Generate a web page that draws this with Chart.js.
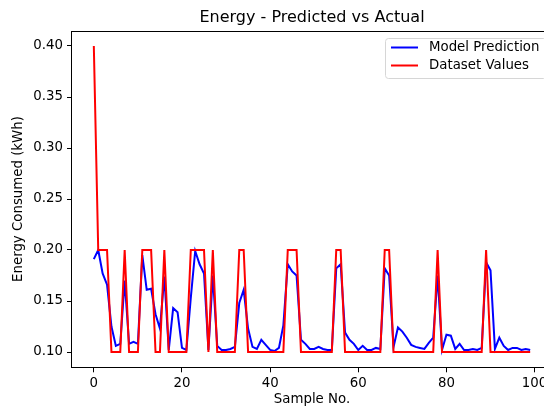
<!DOCTYPE html>
<html>
<head>
<meta charset="utf-8">
<script src="https://cdn.jsdelivr.net/npm/chart.js@4/dist/chart.umd.min.js"></script>
<style>
    html, body { margin: 0; padding: 0; overflow: hidden; background: #fff; }
    #wrap { width: 560px; height: 406px; }
</style>
</head>
<body>
<div id="wrap"><canvas id="myChart" width="560" height="406"></canvas></div>
<script>
const samples = [
    0, 1, 2, 3, 4, 5, 6, 7, 8, 9, 10, 11, 12, 13, 14, 15, 16, 17, 18, 19,
    20, 21, 22, 23, 24, 25, 26, 27, 28, 29, 30, 31, 32, 33, 34, 35, 36, 37, 38, 39,
    40, 41, 42, 43, 44, 45, 46, 47, 48, 49, 50, 51, 52, 53, 54, 55, 56, 57, 58, 59,
    60, 61, 62, 63, 64, 65, 66, 67, 68, 69, 70, 71, 72, 73, 74, 75, 76, 77, 78, 79,
    80, 81, 82, 83, 84, 85, 86, 87, 88, 89, 90, 91, 92, 93, 94, 95, 96, 97, 98, 99,
];

const predicted = [
    0.191, 0.200, 0.177, 0.166, 0.125, 0.106, 0.108, 0.170, 0.108, 0.110,
    0.108, 0.195, 0.161, 0.162, 0.137, 0.123, 0.174, 0.102, 0.143, 0.139,
    0.104, 0.102, 0.153, 0.199, 0.186, 0.177, 0.102, 0.175, 0.106, 0.102,
    0.102, 0.103, 0.105, 0.148, 0.161, 0.123, 0.105, 0.103, 0.112, 0.107,
    0.102, 0.101, 0.104, 0.126, 0.186, 0.179, 0.175, 0.112, 0.108, 0.103,
    0.103, 0.105, 0.103, 0.102, 0.102, 0.182, 0.186, 0.119, 0.112, 0.108,
    0.102, 0.106, 0.102, 0.102, 0.104, 0.103, 0.182, 0.175, 0.105, 0.124,
    0.120, 0.114, 0.107, 0.105, 0.104, 0.103, 0.109, 0.114, 0.175, 0.102,
    0.117, 0.116, 0.103, 0.108, 0.102, 0.102, 0.103, 0.102, 0.104, 0.188,
    0.180, 0.103, 0.114, 0.106, 0.102, 0.104, 0.104, 0.102, 0.103, 0.102,
];

const actual = [
    0.4, 0.2, 0.2, 0.2, 0.1, 0.1, 0.1, 0.2, 0.1, 0.1,
    0.1, 0.2, 0.2, 0.2, 0.1, 0.1, 0.2, 0.1, 0.1, 0.1,
    0.1, 0.1, 0.2, 0.2, 0.2, 0.2, 0.1, 0.2, 0.1, 0.1,
    0.1, 0.1, 0.1, 0.2, 0.2, 0.1, 0.1, 0.1, 0.1, 0.1,
    0.1, 0.1, 0.1, 0.1, 0.2, 0.2, 0.2, 0.1, 0.1, 0.1,
    0.1, 0.1, 0.1, 0.1, 0.1, 0.2, 0.2, 0.1, 0.1, 0.1,
    0.1, 0.1, 0.1, 0.1, 0.1, 0.1, 0.2, 0.2, 0.1, 0.1,
    0.1, 0.1, 0.1, 0.1, 0.1, 0.1, 0.1, 0.1, 0.2, 0.1,
    0.1, 0.1, 0.1, 0.1, 0.1, 0.1, 0.1, 0.1, 0.1, 0.2,
    0.1, 0.1, 0.1, 0.1, 0.1, 0.1, 0.1, 0.1, 0.1, 0.1,
];

const xTicks = [0, 20, 40, 60, 80, 100];
const yTicks = [0.10, 0.15, 0.20, 0.25, 0.30, 0.35, 0.40];

const titleText = 'Energy - Predicted vs Actual';
const xLabelText = 'Sample No.';
const yLabelText = 'Energy Consumed (kWh)';
const seriesNames = ['Model Prediction', 'Dataset Values'];

const FONT = "'DejaVu Sans', sans-serif";

const main = () => {
    createChart();
};

/**
 * x と y の配列から点の配列を作ります。
 */
const toPoints = (xs, ys) => {
    return xs.map((x, i) => ({ x: x, y: ys[i] }));
};

/**
 * 枠線・タイトル・軸ラベル・凡例を描くプラグインです。
 */
const decorPlugin = {
    id: 'decor',
    afterDatasetsDraw: (chart) => {
        const ctx = chart.ctx;
        const area = chart.chartArea;

        // 枠線
        ctx.save();
        ctx.strokeStyle = '#000';
        ctx.lineWidth = 1;
        ctx.strokeRect(Math.round(area.left) - 0.5, Math.round(area.top) + 0.5,
            Math.round(area.right - area.left) + 1, Math.round(area.bottom - area.top) - 1);
        ctx.restore();
    },
    afterDraw: (chart) => {
        const ctx = chart.ctx;
        const area = chart.chartArea;
        const midX = (area.left + area.right) / 2;
        const midY = (area.top + area.bottom) / 2;

        ctx.save();
        ctx.fillStyle = '#000';

        // タイトル
        ctx.font = '16px ' + FONT;
        ctx.textAlign = 'center';
        ctx.textBaseline = 'alphabetic';
        ctx.fillText(titleText, midX, 22);

        // x 軸ラベル
        ctx.font = '13.33px ' + FONT;
        ctx.textBaseline = 'middle';
        ctx.fillText(xLabelText, midX, 400);

        // y 軸ラベル
        ctx.save();
        ctx.translate(18.5, midY);
        ctx.rotate(-Math.PI / 2);
        ctx.fillText(yLabelText, 0, 0);
        ctx.restore();

        // 凡例
        const boxX = 385.5;
        const boxY = 38.5;
        const boxW = 161;
        const boxH = 40;
        ctx.beginPath();
        ctx.roundRect(boxX, boxY, boxW, boxH, 3);
        ctx.fillStyle = 'rgba(255, 255, 255, 0.8)';
        ctx.fill();
        ctx.strokeStyle = '#d6d6d6';
        ctx.lineWidth = 1;
        ctx.stroke();

        const colors = ['#0000ff', '#ff0000'];
        const rows = [47.5, 65.5];
        ctx.font = '13.33px ' + FONT;
        ctx.textAlign = 'left';
        ctx.textBaseline = 'middle';
        rows.forEach((y, i) => {
            ctx.beginPath();
            ctx.moveTo(391, y);
            ctx.lineTo(418, y);
            ctx.strokeStyle = colors[i];
            ctx.lineWidth = 2;
            ctx.stroke();
            ctx.fillStyle = '#000';
            ctx.fillText(seriesNames[i], 429, y + 0.5);
        });

        ctx.restore();
    },
};

/**
 * グラフの生成を行います。
 */
const createChart = () => {
    const chartData = {
        datasets: [
            {
                label: seriesNames[0],
                data: toPoints(samples, predicted),
                borderColor: '#0000ff',
                backgroundColor: '#0000ff',
                borderWidth: 2,
                order: 2,
            },
            {
                label: seriesNames[1],
                data: toPoints(samples, actual),
                borderColor: '#ff0000',
                backgroundColor: '#ff0000',
                borderWidth: 2,
                order: 1,
            },
        ],
    };

    const tickFont = { family: FONT, size: 13.33 };

    const config = {
        type: 'line',
        data: chartData,
        options: {
            responsive: false,
            animation: false,
            layout: {
                padding: { top: 30.7, right: 8, left: 0, bottom: 0 },
            },
            elements: {
                point: { radius: 0 },
                line: { tension: 0, borderJoinStyle: 'miter', borderCapStyle: 'butt' },
            },
            plugins: {
                legend: { display: false },
                title: { display: false },
                tooltip: { enabled: false },
            },
            scales: {
                x: {
                    type: 'linear',
                    min: -4.95,
                    max: 103.95,
                    afterBuildTicks: (scale) => {
                        scale.ticks = xTicks.map((v) => ({ value: v }));
                    },
                    afterFit: (scale) => {
                        scale.height = 38.7;
                        scale.paddingLeft = 0;
                        scale.paddingRight = 0;
                    },
                    grid: {
                        drawOnChartArea: false,
                        drawTicks: true,
                        tickLength: 5,
                        color: '#000',
                    },
                    border: { display: false },
                    ticks: {
                        color: '#000',
                        font: tickFont,
                        padding: 3,
                        maxRotation: 0,
                        autoSkip: false,
                    },
                },
                y: {
                    type: 'linear',
                    min: 0.085,
                    max: 0.415,
                    afterBuildTicks: (scale) => {
                        scale.ticks = yTicks.map((v) => ({ value: v }));
                    },
                    afterFit: (scale) => {
                        scale.width = 72;
                        scale.paddingTop = 0;
                        scale.paddingBottom = 0;
                    },
                    grid: {
                        drawOnChartArea: false,
                        drawTicks: true,
                        tickLength: 5,
                        color: '#000',
                    },
                    border: { display: false },
                    ticks: {
                        color: '#000',
                        font: tickFont,
                        padding: 4,
                        callback: (v) => Number(v).toFixed(2),
                    },
                },
            },
        },
        plugins: [decorPlugin],
    };

    const chart = new Chart(document.getElementById('myChart'), config);

    return chart;
};

main();
</script>
</body>
</html>
